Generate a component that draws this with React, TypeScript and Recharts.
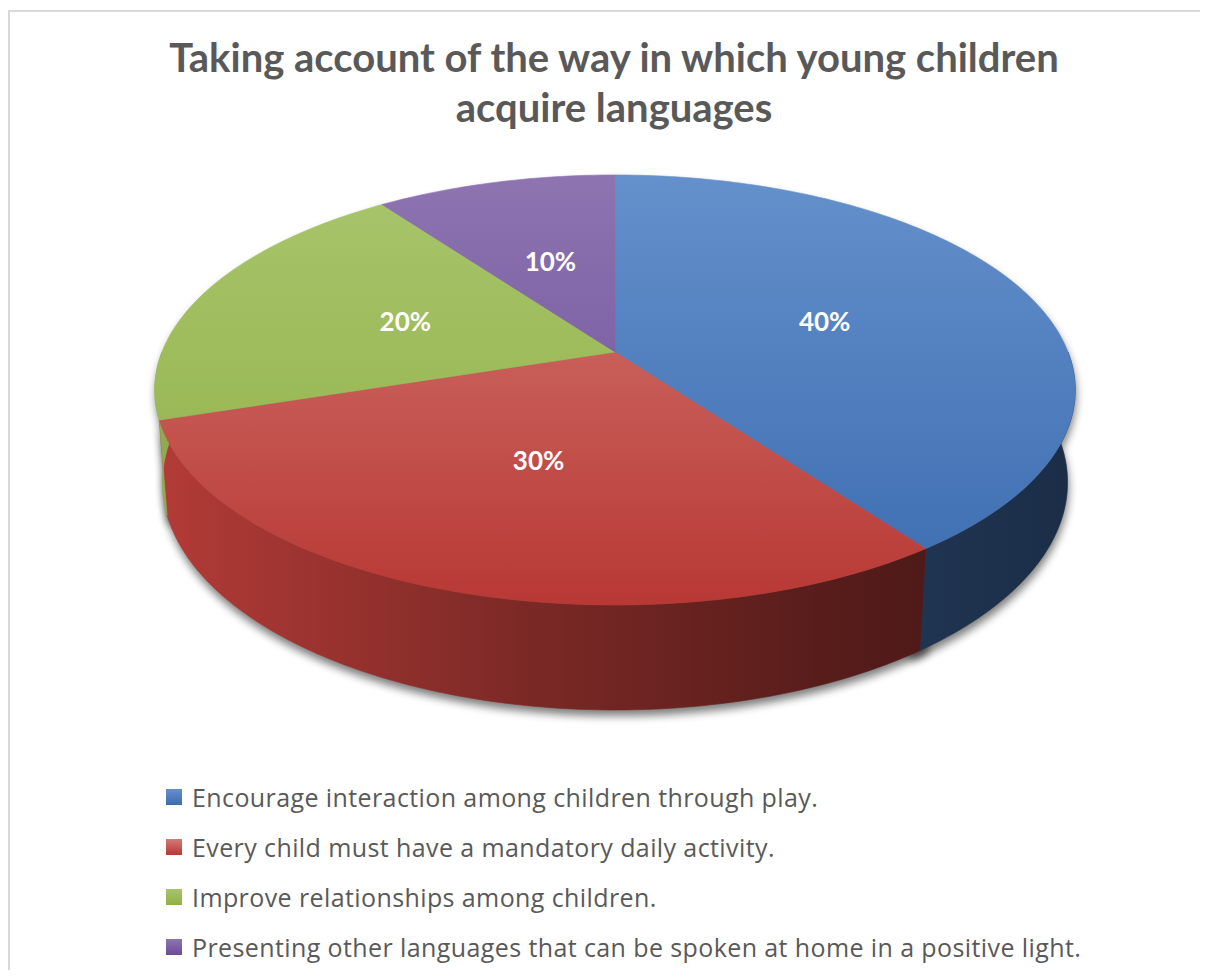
import React from 'react';
import { PieChart, Pie, Cell, Legend } from 'recharts';

// --- Data ---
const categories = [
  'Encourage interaction among children through play.',
  'Every child must have a mandatory daily activity.',
  'Improve relationships among children.',
  'Presenting other languages that can be spoken at home in a positive light.',
];
const shares = [40, 30, 20, 10];
const titleLines = ['Taking account of the way in which young children', 'acquire languages'];

const data = categories.map((name, i) => ({ name, value: shares[i] }));

// --- Colors ---
const COLORS = ['#4f81bd', '#c0504d', '#9bbb59', '#8064a2'];
const TOP_LIGHT = ['#6490cb', '#d47a74', '#a8c56c', '#8e74b1'];
const TOP_DARK = ['#3c6cb0', '#b83834', '#8fb045', '#6a4c98'];
const SIDE_BASE = [
  [75, 125, 195],
  [188, 62, 58],
  [150, 182, 84],
  [124, 96, 158],
];
const SIDE_STOPS = [
  [0, 0.95],
  [0.4, 0.66],
  [0.75, 0.45],
  [1, 0.36],
];

// --- 3D look (tilted disc seen in perspective) ---
const RX = 453;
const DEPTH_Y = 208.3;
const PERSP = 0.1767;
const WALL = 92.3;
const WALL_PERSP = 0.0164;
const CX = 605;
const CY = 340;

function project(cx: number, cy: number, deg: number, r: number, t: number) {
  const a = (deg * Math.PI) / 180;
  const X = r * Math.cos(a);
  const Z = r * Math.sin(a);
  const w = 1 + PERSP * Z + WALL_PERSP * t;
  return [cx + (RX * X) / w, cy + (-DEPTH_Y * Z + WALL * t) / w];
}

function arc(cx: number, cy: number, a1: number, a2: number, t: number) {
  const n = Math.max(2, Math.ceil(Math.abs(a2 - a1)));
  const pts: number[][] = [];
  for (let i = 0; i <= n; i++) pts.push(project(cx, cy, a1 + ((a2 - a1) * i) / n, 1, t));
  return pts;
}

const toPath = (pts: number[][]) => pts.map((p, i) => `${i ? 'L' : 'M'}${p[0].toFixed(2)},${p[1].toFixed(2)}`).join('');

function indexOf(props: any) {
  const name = props?.payload?.name ?? props?.name;
  const i = categories.indexOf(name);
  return i < 0 ? 0 : i;
}

const rgb = (c: number[], f: number) => `rgb(${c.map((v) => Math.round(v * f)).join(',')})`;

function wallPath(cx: number, cy: number, a1: number, a2: number) {
  const top = arc(cx, cy, a1, a2, 0);
  const bottom = arc(cx, cy, a2, a1, 1);
  return toPath([...top, ...bottom]) + 'Z';
}

// shadow under the slab
function ShadowShape(props: any) {
  const { cx, cy, startAngle, endAngle } = props;
  const i = indexOf(props);
  const lo = Math.min(startAngle, endAngle) - 1;
  const hi = Math.max(startAngle, endAngle) + 1;
  const id = `pie-shadow-${i}`;
  const bottom = toPath([project(cx, cy, 0, 0, 1), ...arc(cx, cy, lo, hi, 1)]) + 'Z';
  return (
    <g>
      <defs>
        <filter id={id} x="-20%" y="-20%" width="140%" height="140%">
          <feGaussianBlur stdDeviation="4.5" />
        </filter>
      </defs>
      <g filter={`url(#${id})`} transform="translate(1,6)" opacity={0.5}>
        <path d={wallPath(cx, cy, lo, hi)} fill="#000" />
        <path d={bottom} fill="#000" />
      </g>
    </g>
  );
}

// outer side wall, front part only
function WallShape(props: any) {
  const { cx, cy, startAngle, endAngle } = props;
  const i = indexOf(props);
  const lo = Math.min(startAngle, endAngle);
  const hi = Math.max(startAngle, endAngle);
  const id = `pie-wall-${i}`;
  const parts: string[] = [];
  [-360, 0, 360].forEach((k) => {
    const a1 = Math.max(lo, -180 + k);
    const a2 = Math.min(hi, k);
    if (a2 > a1) parts.push(wallPath(cx, cy, a1, a2));
  });
  if (!parts.length) return <g />;
  return (
    <g>
      <defs>
        <linearGradient id={id} gradientUnits="userSpaceOnUse" x1={cx - 460} y1={0} x2={cx + 460} y2={0}>
          {SIDE_STOPS.map(([o, f]) => (
            <stop key={o} offset={o} stopColor={rgb(SIDE_BASE[i], f)} />
          ))}
        </linearGradient>
      </defs>
      {parts.map((d, j) => (
        <path key={j} d={d} fill={`url(#${id})`} stroke={`url(#${id})`} strokeWidth={0.6} />
      ))}
    </g>
  );
}

// top face of each slice
function TopShape(props: any) {
  const { cx, cy, startAngle, endAngle } = props;
  const i = indexOf(props);
  const id = `pie-top-${i}`;
  const yTop = project(cx, cy, 90, 1, 0)[1];
  const yBot = project(cx, cy, -90, 1, 0)[1];
  const d = toPath([[cx, cy], ...arc(cx, cy, startAngle, endAngle, 0)]) + 'Z';
  return (
    <g>
      <defs>
        <linearGradient id={id} gradientUnits="userSpaceOnUse" x1={0} y1={yTop} x2={0} y2={yBot}>
          <stop offset="0" stopColor={TOP_LIGHT[i]} />
          <stop offset="1" stopColor={TOP_DARK[i]} />
        </linearGradient>
      </defs>
      <path d={d} fill={`url(#${id})`} stroke={`url(#${id})`} strokeWidth={0.6} />
    </g>
  );
}

function renderLabel(props: any) {
  const { cx, cy, midAngle, percent } = props;
  const [x, y] = project(cx, cy, midAngle, 0.5, 0);
  return (
    <text
      x={x}
      y={y}
      fill="#ffffff"
      textAnchor="middle"
      dominantBaseline="central"
      style={{ fontFamily: 'Lato', fontWeight: 700, fontSize: 26 }}
    >
      {`${Math.round((percent || 0) * 100)}%`}
    </text>
  );
}

function LegendList({ payload }: any) {
  const items = (payload || []).filter((e: any) => e.type !== 'none');
  return (
    <div style={{ display: 'flex', flexDirection: 'column' }}>
      {items.map((entry: any) => {
        const i = categories.indexOf(entry.value);
        return (
          <div key={entry.value} style={{ height: 50, display: 'flex', alignItems: 'center' }}>
            <span
              style={{
                width: 16,
                height: 16,
                marginRight: 10,
                flexShrink: 0,
                background: `linear-gradient(${TOP_LIGHT[i]}, ${TOP_DARK[i]})`,
              }}
            />
            <span
              style={{
                fontFamily: 'Open Sans',
                fontSize: 25,
                letterSpacing: 0.4,
                color: '#595959',
                whiteSpace: 'nowrap',
              }}
            >
              {entry.value}
            </span>
          </div>
        );
      })}
    </div>
  );
}

export default function App() {
  return (
    <div
      style={{
        marginTop: 2,
        width: 1198,
        height: 958,
        borderTop: '2px solid #d9d9d9',
        borderLeft: '2px solid #d9d9d9',
        position: 'relative',
        overflow: 'hidden',
        background: '#fff',
      }}
    >
      <PieChart width={1198} height={958} margin={{ top: 0, right: 0, bottom: 0, left: 0 }}>
        {titleLines.map((line, i) => (
          <text
            key={line}
            x={604}
            y={60 + i * 50}
            textAnchor="middle"
            fill="#595959"
            style={{ fontFamily: 'Lato', fontWeight: 700, fontSize: 40 }}
          >
            {line}
          </text>
        ))}
        <Pie
          data={data}
          dataKey="value"
          nameKey="name"
          cx={CX}
          cy={CY}
          outerRadius={460}
          startAngle={90}
          endAngle={-270}
          stroke="none"
          legendType="none"
          shape={ShadowShape}
          activeShape={ShadowShape}
          inactiveShape={ShadowShape}
          isAnimationActive={false}
        />
        <Pie
          data={data}
          dataKey="value"
          nameKey="name"
          cx={CX}
          cy={CY}
          outerRadius={460}
          startAngle={90}
          endAngle={-270}
          stroke="none"
          legendType="none"
          shape={WallShape}
          activeShape={WallShape}
          inactiveShape={WallShape}
          isAnimationActive={false}
        />
        <Pie
          data={data}
          dataKey="value"
          nameKey="name"
          cx={CX}
          cy={CY}
          outerRadius={460}
          startAngle={90}
          endAngle={-270}
          stroke="none"
          legendType="square"
          shape={TopShape}
          activeShape={TopShape}
          inactiveShape={TopShape}
          label={renderLabel}
          labelLine={false}
          isAnimationActive={false}
        >
          {data.map((entry, index) => (
            <Cell key={`cell-${index}`} fill={COLORS[index]} />
          ))}
        </Pie>
        <Legend
          layout="horizontal"
          verticalAlign="bottom"
          align="left"
          content={<LegendList />}
          wrapperStyle={{ left: 156, top: 760, bottom: 'auto', width: 1040 }}
        />
      </PieChart>
    </div>
  );
}
